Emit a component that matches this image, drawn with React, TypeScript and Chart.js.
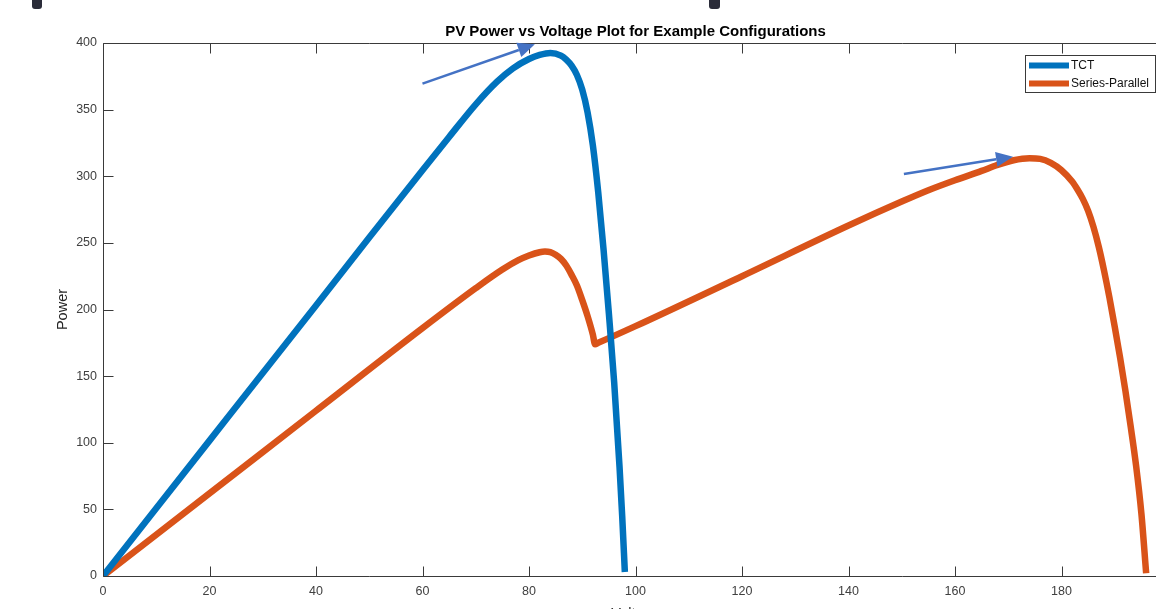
import React, { useEffect, useRef } from "react";
import { Chart, registerables } from "chart.js";

Chart.register(...registerables);

// ---- Data ----
const tctVoltage = [0, 10, 20, 30, 40, 50, 60, 65, 70, 74, 77, 80, 82, 84, 86, 87, 88, 89, 90, 91, 92, 93, 94, 95, 96, 97, 97.5, 98];
const tctPower = [0, 50.8, 101.6, 152.4, 203, 254, 304.5, 329.5, 354, 371, 381, 388, 391, 392.5, 390.5, 387.5, 383, 376, 365, 348, 323, 288, 245, 197, 145, 82, 45, 3];

const spVoltage = [0, 20, 40, 60, 70, 75, 78, 80, 82, 83, 84, 85, 86, 87, 88, 89, 90, 91, 92, 92.4, 93, 100, 120, 140, 150, 155, 160, 165, 168, 171, 174, 176, 178, 180, 182, 183, 184, 185, 186, 187, 188, 189, 190, 191, 192, 193, 194, 195, 195.9];
const spPower = [0, 62, 124, 186, 216, 230, 237, 240.5, 243, 243.5, 243, 241, 238, 233, 226, 218, 207, 195, 181, 174, 175, 187.5, 225, 263, 281, 289.5, 297, 304, 308.5, 312, 313.5, 313, 310, 304.5, 296, 290, 283, 274, 262, 247, 229, 209, 187, 164, 139, 112, 83, 47, 2];

const seriesLabels = ["TCT", "Series-Parallel"];
const seriesColors = ["#0072BD", "#D95319"];

const xTickStep = 20;
const yTickStep = 50;

// annotation arrows [startV, startP, endV, endP]
const arrowStarts = [[60, 369.5], [150.4, 301.7]];
const arrowEnds = [[81.1, 399], [170.9, 314.7]];

const chartTitle = "PV Power vs Voltage Plot for Example Configurations";
const xTitle = "Voltage";
const yTitle = "Power";

const FONT = "'Liberation Sans', Arial, Helvetica, sans-serif";

const decorPlugin = {
  id: "decor",
  afterDraw(chart: any) {
    const ctx = chart.ctx;
    const ca = chart.chartArea;
    const xs = chart.scales.x;
    const ys = chart.scales.y;
    ctx.save();

    // box + inward ticks
    ctx.strokeStyle = "#3a3a3a";
    ctx.lineWidth = 1;
    const L = Math.round(ca.left) + 0.5;
    const R = Math.round(ca.right) + 0.5;
    const T = Math.round(ca.top) + 0.5;
    const B = Math.round(ca.bottom) + 0.5;
    ctx.beginPath();
    ctx.rect(L, T, R - L, B - T);
    ctx.stroke();
    const tl = 10;
    ctx.beginPath();
    xs.ticks.forEach((t: any) => {
      const px = Math.round(xs.getPixelForValue(t.value)) + 0.5;
      ctx.moveTo(px, B);
      ctx.lineTo(px, B - tl);
      ctx.moveTo(px, T);
      ctx.lineTo(px, T + tl);
    });
    ys.ticks.forEach((t: any) => {
      const py = Math.round(ys.getPixelForValue(t.value)) + 0.5;
      ctx.moveTo(L, py);
      ctx.lineTo(L + tl, py);
      ctx.moveTo(R, py);
      ctx.lineTo(R - tl, py);
    });
    ctx.stroke();

    // arrows
    ctx.strokeStyle = "#4472C4";
    ctx.fillStyle = "#4472C4";
    ctx.lineWidth = 2.5;
    arrowStarts.forEach((s, i) => {
      const e = arrowEnds[i];
      const x1 = xs.getPixelForValue(s[0]);
      const y1 = ys.getPixelForValue(s[1]);
      const x2 = xs.getPixelForValue(e[0]);
      const y2 = ys.getPixelForValue(e[1]);
      const ang = Math.atan2(y2 - y1, x2 - x1);
      const hl = 17;
      const hw = 7.5;
      const bx = x2 - hl * Math.cos(ang);
      const by = y2 - hl * Math.sin(ang);
      ctx.beginPath();
      ctx.moveTo(x1, y1);
      ctx.lineTo(bx, by);
      ctx.stroke();
      ctx.beginPath();
      ctx.moveTo(x2, y2);
      ctx.lineTo(bx + hw * Math.sin(ang), by - hw * Math.cos(ang));
      ctx.lineTo(bx - hw * Math.sin(ang), by + hw * Math.cos(ang));
      ctx.closePath();
      ctx.fill();
    });

    // legend
    const lx = 1025.5;
    const ly = 55.5;
    ctx.fillStyle = "#ffffff";
    ctx.fillRect(lx, ly, 130, 37);
    ctx.strokeStyle = "#3a3a3a";
    ctx.lineWidth = 1;
    ctx.strokeRect(lx, ly, 130, 37);
    chart.data.datasets.forEach((ds: any, i: number) => {
      const yy = 65.5 + i * 18;
      ctx.strokeStyle = ds.borderColor;
      ctx.lineWidth = 6;
      ctx.beginPath();
      ctx.moveTo(1029, yy);
      ctx.lineTo(1069, yy);
      ctx.stroke();
      ctx.fillStyle = "#111111";
      ctx.font = `12px ${FONT}`;
      ctx.textAlign = "left";
      ctx.textBaseline = "middle";
      ctx.fillText(ds.label, 1071, yy);
    });

    // axis titles
    ctx.fillStyle = "#262626";
    ctx.font = `14.5px ${FONT}`;
    ctx.textAlign = "center";
    ctx.textBaseline = "middle";
    ctx.fillText(xTitle, (ca.left + ca.right) / 2, 614);
    ctx.save();
    ctx.translate(63, (ca.top + ca.bottom) / 2);
    ctx.rotate(-Math.PI / 2);
    ctx.fillText(yTitle, 0, 0);
    ctx.restore();

    // dark marks at top edge
    ctx.fillStyle = "#2a2c39";
    [[32, 10], [709, 11]].forEach(([mx, mw]) => {
      ctx.beginPath();
      ctx.roundRect(mx, -6, mw, 15, 3);
      ctx.fill();
    });

    ctx.restore();
  },
};

export default function App() {
  const canvasRef = useRef<HTMLCanvasElement | null>(null);

  useEffect(() => {
    const canvas = canvasRef.current;
    if (!canvas) return;
    const datasets = [
      { v: tctVoltage, p: tctPower },
      { v: spVoltage, p: spPower },
    ].map((s, i) => ({
      label: seriesLabels[i],
      data: s.v.map((v, j) => ({ x: v, y: s.p[j] })),
      borderColor: seriesColors[i],
      backgroundColor: seriesColors[i],
      borderWidth: 6.5,
      pointRadius: 0,
      tension: 0.4,
      cubicInterpolationMode: "monotone",
      showLine: true,
      fill: false,
      borderCapStyle: "butt",
      borderJoinStyle: "round",
    }));

    const chart = new Chart(canvas, {
      type: "scatter",
      data: { datasets: datasets as any },
      options: {
        responsive: false,
        animation: false,
        devicePixelRatio: 1,
        layout: { padding: { left: 0, right: 32, top: 0, bottom: 0 } },
        plugins: {
          legend: { display: false },
          tooltip: { enabled: false },
          title: {
            display: true,
            text: chartTitle,
            fullSize: false,
            color: "#000000",
            font: { family: FONT, size: 15, weight: "bold", lineHeight: 1.2 },
            padding: { top: 23, bottom: 2 },
          },
        },
        scales: {
          x: {
            type: "linear",
            min: 0,
            max: 200,
            grid: { display: false, drawTicks: false },
            border: { display: false },
            ticks: {
              stepSize: xTickStep,
              padding: 8,
              color: "#404040",
              maxRotation: 0,
              font: { family: FONT, size: 12.5 },
            },
            afterFit: (s: any) => {
              s.height = 54;
            },
          },
          y: {
            type: "linear",
            min: 0,
            max: 400,
            grid: { display: false, drawTicks: false },
            border: { display: false },
            ticks: {
              stepSize: yTickStep,
              padding: 6,
              color: "#404040",
              font: { family: FONT, size: 12.5 },
            },
            afterFit: (s: any) => {
              s.width = 103;
            },
          },
        },
      },
      plugins: [decorPlugin],
    });
    return () => chart.destroy();
  }, []);

  return (
    <div style={{ position: "fixed", left: 0, top: 0, width: 1200, height: 630, background: "#ffffff" }}>
      <canvas ref={canvasRef} width={1200} height={630} style={{ width: 1200, height: 630, display: "block" }} />
    </div>
  );
}
